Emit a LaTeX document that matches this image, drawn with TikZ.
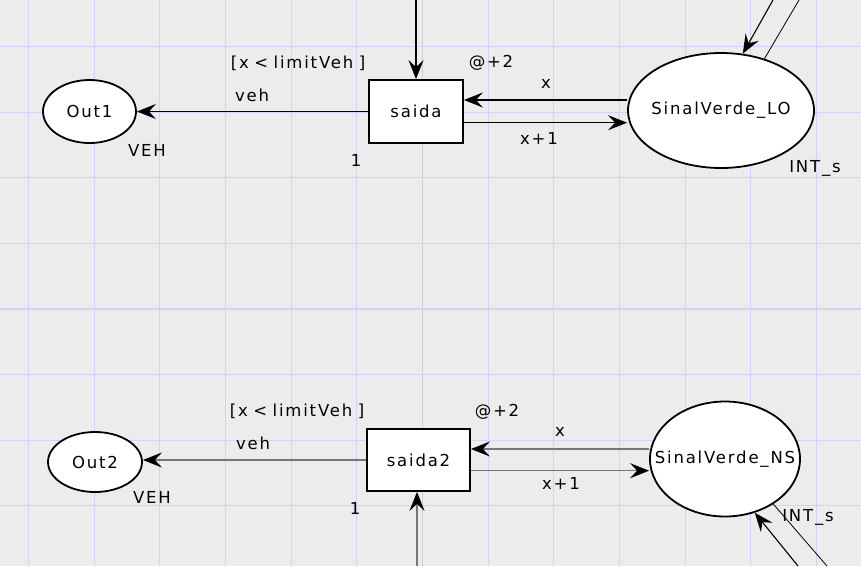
\documentclass[tikz,border=0pt]{standalone}
\usepackage{fontspec}
\usetikzlibrary{shapes.geometric,arrows.meta}
\newfontfamily\cpnfont[LetterSpace=11]{DejaVu Sans}
\definecolor{bgc}{HTML}{ECECEC}
\definecolor{gridc}{HTML}{D2D2F8}
\definecolor{gridg}{HTML}{D0D0D0}
\definecolor{arcg}{HTML}{777777}
\tikzset{
  place/.style={ellipse,draw=black,line width=1.8pt,fill=white,inner sep=0pt},
  bigplace/.style={place,inner xsep=-35pt},
  trans/.style={rectangle,draw=black,line width=1.8pt,fill=white,inner sep=0pt},
  lbl/.style={inner sep=0pt},
  tip/.style={-{Stealth[length=19pt,width=15pt,inset=7pt]}},
  arc/.style={draw=black,line width=1.1pt,tip},
  arcgray/.style={draw=arcg,line width=1.4pt,-{Stealth[length=19pt,width=15pt,inset=7pt,color=black]}},
  plainarc/.style={draw=black,line width=0.8pt},
}
\newcommand{\gsp}{\hspace*{5.5pt}}
\begin{document}
\begin{tikzpicture}[x=1pt,y=-1pt,font=\cpnfont\fontsize{16.5}{19}\selectfont]
\fill[bgc] (0,0) rectangle (861,566);
\path[use as bounding box] (0,0) rectangle (861,566);
% grid
\foreach \k in {0,1,2,3,4,5,7,8,9,10,11,12}
  \draw[gridc,line width=1pt] ({28.6+65.65*\k},0) -- ({28.6+65.65*\k},566);
\draw[gridg,line width=0.8pt] ({28.6+65.65*6},0) -- ({28.6+65.65*6},566);
\foreach \k in {0,...,7}
  \draw[gridc,line width=1.2pt] (0,{46.5+65.6*\k}) -- (861,{46.5+65.6*\k});

% ---------- top net ----------
\node[place,minimum width=93pt,minimum height=63pt] (Out1) at (89.5,111.5) {Out1};
\node[trans,minimum width=94pt,minimum height=63pt] (saida) at (416,111.5) {saida};
\node[bigplace,minimum width=186pt,minimum height=115pt] (SVLO) at (721,110.5) {SinalVerde\_LO};

\coordinate (t1) at (417,0);
\coordinate (d1) at (773,0);
\coordinate (d2) at (799,0);
\coordinate (a1) at (0,100);
\coordinate (a2) at (0,122.7);

\draw[arc] (saida.west) -- (Out1.east);
\draw[arc] (SVLO.west |- a1) -- (saida.east |- a1);
\draw[arc] (saida.east |- a2) -- (SVLO.west |- a2);
\draw[arc] (saida.north |- t1) -- (saida.north);
\draw[arc] (d1) -- (SVLO.69);
\draw[plainarc] (SVLO.50) -- (d2);

\node[lbl] (g1) at (298,63) {[x\gsp<\gsp limitVeh\gsp]};
\node[lbl] (p1) at (491,63) {@+2};
\node[lbl] (x1) at (546,84) {x};
\node[lbl] (v1) at (252,95) {veh};
\node[lbl] (xp1) at (539,138) {x+1};
\node[lbl] (V1) at (147,150) {VEH};
\node[lbl] (n1) at (356,160) {1};
\node[lbl] (I1) at (815,168) {INT\_s};

% ---------- bottom net ----------
\node[place,minimum width=94pt,minimum height=60pt] (Out2) at (95,462) {Out2};
\node[trans,minimum width=103pt,minimum height=62pt] (saida2) at (418.5,460) {saida2};
\node[bigplace,minimum width=150pt,minimum height=115pt] (SVNS) at (725,459) {SinalVerde\_NS};

\coordinate (b1) at (417,566);
\coordinate (e1) at (798,566);
\coordinate (e2) at (827,566);
\coordinate (c1) at (0,449);
\coordinate (c2) at (0,470.7);

\draw[arcgray] (saida2.west |- 0,460) -- (Out2.east |- 0,460);
\draw[arcgray] (SVNS.west |- c1) -- (saida2.east |- c1);
\draw[arcgray] (saida2.east |- c2) -- (SVNS.west |- c2);
\draw[arcgray] (b1) -- (b1 |- saida2.south);
\draw[arc] (e1) -- (SVNS.-61);
\draw[plainarc] (SVNS.-43) -- (e2);

\node[lbl] (g2) at (297,411) {[x\gsp<\gsp limitVeh\gsp]};
\node[lbl] (p2) at (497,412) {@+2};
\node[lbl] (x2) at (560,432) {x};
\node[lbl] (v2) at (253,443) {veh};
\node[lbl] (xp2) at (561,483) {x+1};
\node[lbl] (V2) at (152,497) {VEH};
\node[lbl] (n2) at (355,508) {1};
\node[lbl] (I2) at (808,517) {INT\_s};
\end{tikzpicture}
\end{document}
